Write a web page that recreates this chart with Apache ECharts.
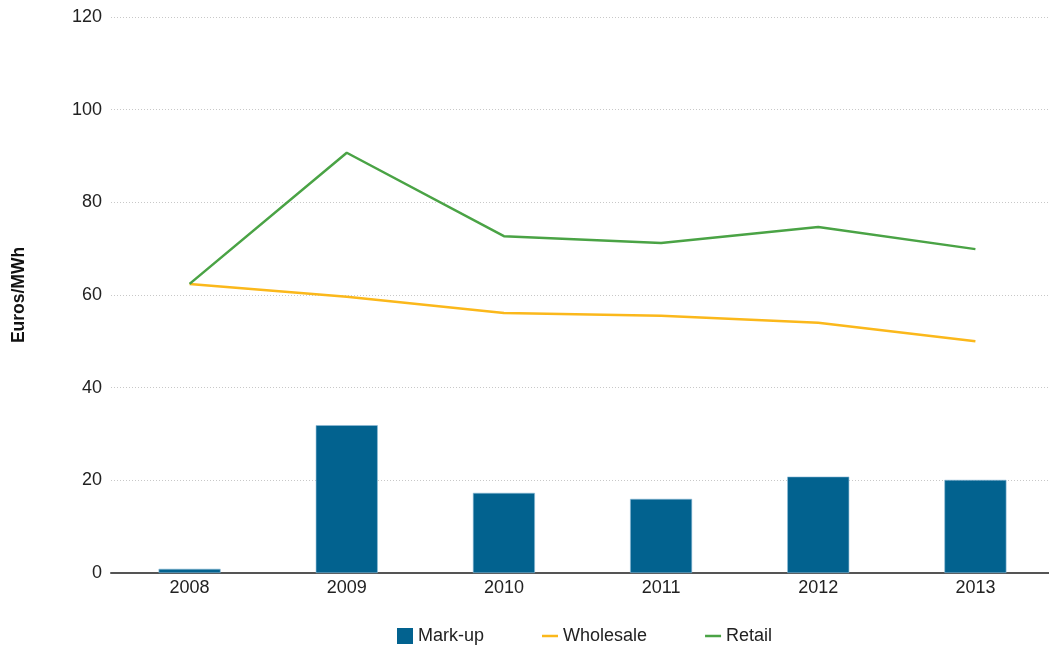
<!DOCTYPE html>
<html>
<head>
<meta charset="utf-8">
<script src="https://cdn.jsdelivr.net/npm/echarts@6/dist/echarts.min.js"></script>
<style>
html,body{margin:0;padding:0;background:#fff;}
#chart{width:1049px;height:648px;}
</style>
</head>
<body>
<div id="chart"></div>
<script>
var years = ['2008', '2009', '2010', '2011', '2012', '2013'];
var markUp = [0.9, 31.9, 17.3, 16.0, 20.8, 20.1];
var wholesale = [62.4, 59.6, 56.1, 55.5, 54.0, 50.0];
var retail = [62.4, 90.7, 72.7, 71.2, 74.7, 69.9];
var seriesNames = ['Mark-up', 'Wholesale', 'Retail'];
var yTicks = { min: 0, max: 120, interval: 20 };
var yName = 'Euros/MWh';

var FONT = "'Liberation Sans', Arial, sans-serif";
var LINE_ICON = 'path://M0,0H16V2.5H0Z';
var chart = echarts.init(document.getElementById('chart'), null, { renderer: 'canvas' });
chart.setOption({
  animation: false,
  backgroundColor: '#ffffff',
  textStyle: { fontFamily: FONT },
  grid: { left: 111, width: 943, top: 17, bottom: 75, containLabel: false, outerBoundsMode: 'none' },
  legend: {
    left: 397,
    top: 627,
    padding: 0,
    itemWidth: 16,
    itemHeight: 16,
    itemGap: 58,
    symbolKeepAspect: true,
    textStyle: { fontFamily: FONT, fontSize: 18, color: '#222' },
    data: [
      { name: seriesNames[0], icon: 'rect', itemStyle: { borderWidth: 0 } },
      { name: seriesNames[1], icon: LINE_ICON },
      { name: seriesNames[2], icon: LINE_ICON }
    ]
  },
  xAxis: {
    type: 'category',
    data: years,
    axisLine: { lineStyle: { color: '#555', width: 2 } },
    axisTick: { show: false },
    axisLabel: { fontFamily: FONT, fontSize: 18, color: '#222', margin: 6 },
    splitLine: { show: false }
  },
  yAxis: {
    type: 'value',
    min: yTicks.min,
    max: yTicks.max,
    interval: yTicks.interval,
    name: yName,
    nameLocation: 'middle',
    nameGap: 83,
    nameTextStyle: { fontFamily: FONT, fontSize: 17.5, fontWeight: 'bold', color: '#111' },
    axisLine: { show: false },
    axisTick: { show: false },
    axisLabel: { fontFamily: FONT, fontSize: 18, color: '#222', margin: 9 },
    splitLine: { lineStyle: { color: '#c8c8c8', type: [1, 2], width: 1 } }
  },
  series: [
    {
      name: seriesNames[0],
      type: 'bar',
      data: markUp,
      barWidth: 62,
      itemStyle: { color: '#02628f', borderColor: '#8fbcd6', borderWidth: 0.6 }
    },
    {
      name: seriesNames[1],
      type: 'line',
      data: wholesale,
      symbol: 'none',
      lineStyle: { color: '#fbb81b', width: 2.5 },
      itemStyle: { color: '#fbb81b' }
    },
    {
      name: seriesNames[2],
      type: 'line',
      data: retail,
      symbol: 'none',
      lineStyle: { color: '#4aa345', width: 2.5 },
      itemStyle: { color: '#4aa345' }
    }
  ]
});
</script>
</body>
</html>
